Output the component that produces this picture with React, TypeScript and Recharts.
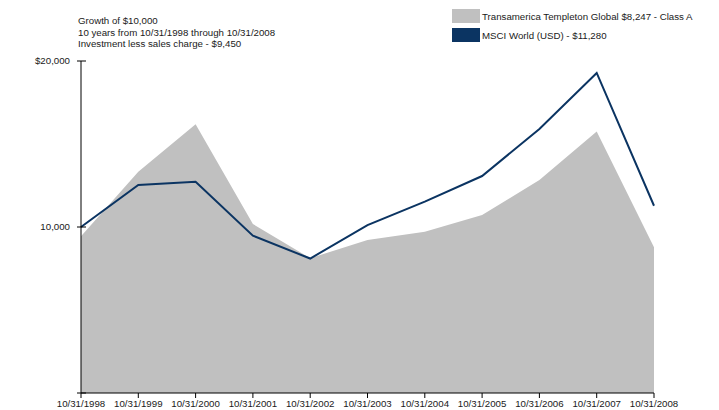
import React from 'react';
import { ComposedChart, Area, Line, XAxis, YAxis } from 'recharts';

const dates = [
  '10/31/1998', '10/31/1999', '10/31/2000', '10/31/2001', '10/31/2002', '10/31/2003',
  '10/31/2004', '10/31/2005', '10/31/2006', '10/31/2007', '10/31/2008',
];
const templeton = [9450, 13330, 16190, 10180, 8120, 9220, 9720, 10720, 12830, 15760, 8780];
const msci = [10000, 12530, 12720, 9480, 8100, 10110, 11530, 13070, 15900, 19280, 11280];
const yTicks = [0, 10000, 20000];
const yTickLabels = ['', '10,000', '$20,000'];

const titleLines = [
  'Growth of $10,000',
  '10 years from 10/31/1998 through 10/31/2008',
  'Investment less sales charge - $9,450',
];

const GREY = '#c0c0c0';
const NAVY = '#0b3462';
const FONT = '"Liberation Sans", Arial, sans-serif';
const FS = 9.7;

const legendItems = [
  { label: 'Transamerica Templeton Global $8,247 - Class A', color: GREY },
  { label: 'MSCI World (USD) - $11,280', color: NAVY },
];

const data = dates.map((d, i) => ({ date: d, templeton: templeton[i], msci: msci[i] }));

const YTick = (props: any) => {
  const { x, y, payload } = props;
  const idx = yTicks.indexOf(payload.value);
  return (
    <g>
      <line x1={x + 7} x2={x + 16} y1={y} y2={y} stroke="#000" strokeWidth={1} />
      <text x={x} y={y} dy="0.35em" textAnchor="end" fontSize={FS} fill="#1a1a1a" fontFamily={FONT}>
        {yTickLabels[idx]}
      </text>
    </g>
  );
};

const App: React.FC = () => {
  return (
    <div style={{ position: 'absolute', left: 0, top: 0, width: 719, height: 410, background: '#fff', fontFamily: FONT }}>
      <div style={{ position: 'absolute', left: 78, top: 15, fontSize: FS, lineHeight: '11.5px', color: '#1a1a1a' }}>
        {titleLines.map((t) => (
          <div key={t}>{t}</div>
        ))}
      </div>
      <div style={{ position: 'absolute', left: 452, top: 9 }}>
        {legendItems.map((it) => (
          <div key={it.label} style={{ display: 'flex', alignItems: 'center', height: 14, marginBottom: 5 }}>
            <div style={{ width: 28, height: 14, background: it.color, marginRight: 2 }} />
            <span style={{ fontSize: FS, color: '#1a1a1a' }}>{it.label}</span>
          </div>
        ))}
      </div>
      <ComposedChart width={719} height={410} data={data} margin={{ top: 61, right: 65, bottom: 0, left: 0 }}>
        <XAxis
          dataKey="date"
          scale="point"
          height={17}
          tickSize={5}
          tickMargin={2}
          interval={0}
          axisLine={{ stroke: '#000' }}
          tickLine={{ stroke: '#000' }}
          tick={{ fontSize: FS, fill: '#1a1a1a', fontFamily: FONT }}
        />
        <YAxis
          width={81}
          domain={[0, 20000]}
          ticks={yTicks}
          tickSize={0}
          tickMargin={11}
          tickLine={false}
          axisLine={{ stroke: '#000' }}
          tick={<YTick />}
        />
        <Area
          type="linear"
          dataKey="templeton"
          fill={GREY}
          fillOpacity={1}
          stroke="none"
          isAnimationActive={false}
        />
        <Line
          type="linear"
          dataKey="msci"
          stroke={NAVY}
          strokeWidth={2}
          dot={false}
          isAnimationActive={false}
        />
      </ComposedChart>
    </div>
  );
};

export default App;
